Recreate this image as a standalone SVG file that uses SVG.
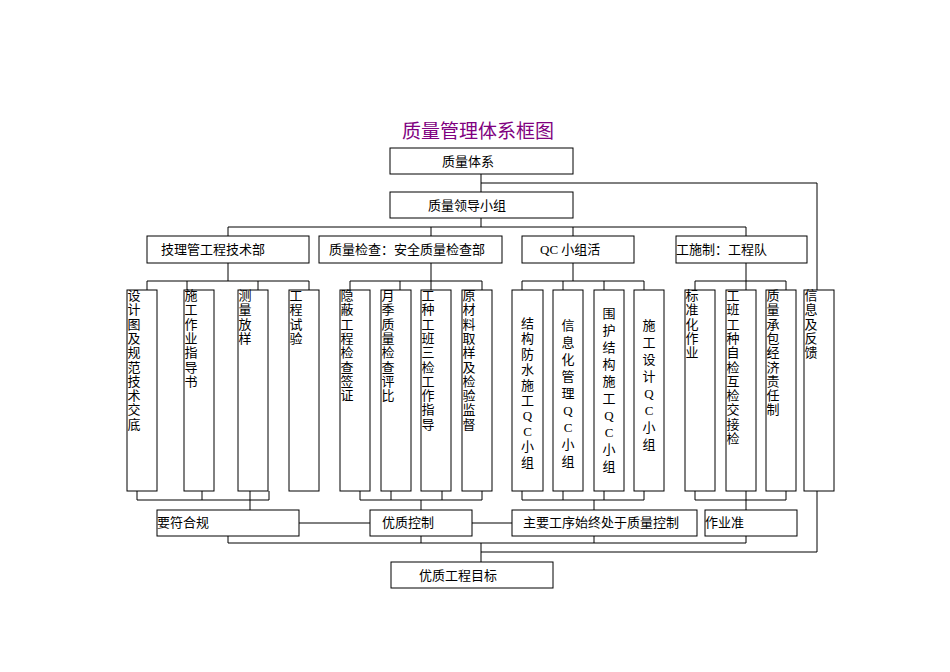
<svg xmlns="http://www.w3.org/2000/svg" width="950" height="672" viewBox="0 0 950 672">
<style>
rect{fill:#fff;stroke:#000;stroke-width:1}
.c path{fill:none;stroke:#000;stroke-width:1}
text{font-family:"Liberation Serif","Noto Sans CJK SC",serif;font-size:13px;fill:#000}
.v{text-anchor:middle}
.t{font-family:"Noto Sans CJK SC",sans-serif;font-size:19px;fill:#800080;text-anchor:middle}
</style>
<rect width="950" height="672" style="stroke:none"/>
<text class="t" x="478" y="138">质量管理体系框图</text>
<g class="c">
<path d="M481 174V192M481 183H817V290M481 218V227M228 227H746M228 227V236M431 227V236M573 227V236M746 227V236"/>
<path d="M228 263V281M147 281H309M147 281V290M187 281V290M258 281V290M309 281V290M137 491V500H269V491M202 491V500M250 491V500M250 500V510"/>
<path d="M431 263V281M350 281H482M350 281V290M400 281V290M431 281V290M482 281V290M360 491V500H482V491M391 491V500M442 491V500M421 500V510"/>
<path d="M573 263V281M522 281H644M522 281V290M563 281V290M604 281V290M644 281V290M522 491V500H644V491M563 491V500M604 491V500M594 500V510"/>
<path d="M746 263V281M695 281H786M695 281V290M746 281V290M786 281V290M695 491V500H786V491M746 491V510"/>
<path d="M299 523H370M472 523H512M228 536V543H746V536M421 536V543M594 536V543M481 543V562M817 491V552H481"/>
</g>
<g id="n1"><rect x="390" y="148" width="183" height="26"/><text x="442" y="166">质量体系</text></g>
<g id="n2"><rect x="390" y="192" width="183" height="26"/><text x="428" y="210">质量领导小组</text></g>
<g id="a"><rect x="147" y="236" width="162" height="27"/><text x="161" y="254">技理管工程技术部</text></g>
<g id="b"><rect x="319" y="236" width="183" height="27"/><text x="329" y="254">质量检查：安全质量检查部</text></g>
<g id="cc"><rect x="522" y="236" width="112" height="27"/><text x="540" y="254">QC 小组活</text></g>
<g id="d"><rect x="676" y="236" width="131" height="27"/><text x="676" y="254">工施制：工程队</text></g>
<g id="a1"><rect x="127" y="290" width="30" height="201"/><text class="v" x="134"><tspan x="134" y="300">设</tspan><tspan x="134" dy="14.3">计</tspan><tspan x="134" dy="14.3">图</tspan><tspan x="134" dy="14.3">及</tspan><tspan x="134" dy="14.3">规</tspan><tspan x="134" dy="14.3">范</tspan><tspan x="134" dy="14.3">技</tspan><tspan x="134" dy="14.3">术</tspan><tspan x="134" dy="14.3">交</tspan><tspan x="134" dy="14.3">底</tspan></text></g>
<g id="a2"><rect x="184" y="290" width="30" height="201"/><text class="v"><tspan x="191" y="300">施</tspan><tspan x="191" dy="14.3">工</tspan><tspan x="191" dy="14.3">作</tspan><tspan x="191" dy="14.3">业</tspan><tspan x="191" dy="14.3">指</tspan><tspan x="191" dy="14.3">导</tspan><tspan x="191" dy="14.3">书</tspan></text></g>
<g id="a3"><rect x="238" y="290" width="30" height="201"/><text class="v"><tspan x="245" y="300">测</tspan><tspan x="245" dy="14.3">量</tspan><tspan x="245" dy="14.3">放</tspan><tspan x="245" dy="14.3">样</tspan></text></g>
<g id="a4"><rect x="289" y="290" width="30" height="201"/><text class="v"><tspan x="296" y="300">工</tspan><tspan x="296" dy="14.3">程</tspan><tspan x="296" dy="14.3">试</tspan><tspan x="296" dy="14.3">验</tspan></text></g>
<g id="b1"><rect x="340" y="290" width="30" height="201"/><text class="v"><tspan x="347" y="300">隐</tspan><tspan x="347" dy="14.3">蔽</tspan><tspan x="347" dy="14.3">工</tspan><tspan x="347" dy="14.3">程</tspan><tspan x="347" dy="14.3">检</tspan><tspan x="347" dy="14.3">查</tspan><tspan x="347" dy="14.3">签</tspan><tspan x="347" dy="14.3">证</tspan></text></g>
<g id="b2"><rect x="381" y="290" width="30" height="201"/><text class="v"><tspan x="388" y="300">月</tspan><tspan x="388" dy="14.3">季</tspan><tspan x="388" dy="14.3">质</tspan><tspan x="388" dy="14.3">量</tspan><tspan x="388" dy="14.3">检</tspan><tspan x="388" dy="14.3">查</tspan><tspan x="388" dy="14.3">评</tspan><tspan x="388" dy="14.3">比</tspan></text></g>
<g id="b3"><rect x="421" y="290" width="30" height="201"/><text class="v"><tspan x="428" y="300">工</tspan><tspan x="428" dy="14.3">种</tspan><tspan x="428" dy="14.3">工</tspan><tspan x="428" dy="14.3">班</tspan><tspan x="428" dy="14.3">三</tspan><tspan x="428" dy="14.3">检</tspan><tspan x="428" dy="14.3">工</tspan><tspan x="428" dy="14.3">作</tspan><tspan x="428" dy="14.3">指</tspan><tspan x="428" dy="14.3">导</tspan></text></g>
<g id="b4"><rect x="462" y="290" width="30" height="201"/><text class="v"><tspan x="469" y="300">原</tspan><tspan x="469" dy="14.3">材</tspan><tspan x="469" dy="14.3">料</tspan><tspan x="469" dy="14.3">取</tspan><tspan x="469" dy="14.3">样</tspan><tspan x="469" dy="14.3">及</tspan><tspan x="469" dy="14.3">检</tspan><tspan x="469" dy="14.3">验</tspan><tspan x="469" dy="14.3">监</tspan><tspan x="469" dy="14.3">督</tspan></text></g>
<g id="c1"><rect x="512" y="290" width="31" height="201"/><text class="v"><tspan x="527.5" y="328">结</tspan><tspan x="527.5" dy="15.4">构</tspan><tspan x="527.5" dy="15.4">防</tspan><tspan x="527.5" dy="15.4">水</tspan><tspan x="527.5" dy="15.4">施</tspan><tspan x="527.5" dy="15.4">工</tspan><tspan x="527.5" dy="15.4">Q</tspan><tspan x="527.5" dy="15.4">C</tspan><tspan x="527.5" dy="15.4">小</tspan><tspan x="527.5" dy="15.4">组</tspan></text></g>
<g id="c2"><rect x="553" y="290" width="30" height="201"/><text class="v"><tspan x="568" y="330">信</tspan><tspan x="568" dy="17">息</tspan><tspan x="568" dy="17">化</tspan><tspan x="568" dy="17">管</tspan><tspan x="568" dy="17">理</tspan><tspan x="568" dy="17">Q</tspan><tspan x="568" dy="17">C</tspan><tspan x="568" dy="17">小</tspan><tspan x="568" dy="17">组</tspan></text></g>
<g id="c3"><rect x="594" y="290" width="30" height="201"/><text class="v"><tspan x="609" y="318">围</tspan><tspan x="609" dy="17">护</tspan><tspan x="609" dy="17">结</tspan><tspan x="609" dy="17">构</tspan><tspan x="609" dy="17">施</tspan><tspan x="609" dy="17">工</tspan><tspan x="609" dy="17">Q</tspan><tspan x="609" dy="17">C</tspan><tspan x="609" dy="17">小</tspan><tspan x="609" dy="17">组</tspan></text></g>
<g id="c4"><rect x="634" y="290" width="30" height="201"/><text class="v"><tspan x="649" y="330">施</tspan><tspan x="649" dy="17">工</tspan><tspan x="649" dy="17">设</tspan><tspan x="649" dy="17">计</tspan><tspan x="649" dy="17">Q</tspan><tspan x="649" dy="17">C</tspan><tspan x="649" dy="17">小</tspan><tspan x="649" dy="17">组</tspan></text></g>
<g id="d1"><rect x="685" y="290" width="30" height="201"/><text class="v"><tspan x="692" y="300">标</tspan><tspan x="692" dy="14.3">准</tspan><tspan x="692" dy="14.3">化</tspan><tspan x="692" dy="14.3">作</tspan><tspan x="692" dy="14.3">业</tspan></text></g>
<g id="d2"><rect x="726" y="290" width="30" height="201"/><text class="v"><tspan x="733" y="300">工</tspan><tspan x="733" dy="14.3">班</tspan><tspan x="733" dy="14.3">工</tspan><tspan x="733" dy="14.3">种</tspan><tspan x="733" dy="14.3">自</tspan><tspan x="733" dy="14.3">检</tspan><tspan x="733" dy="14.3">互</tspan><tspan x="733" dy="14.3">检</tspan><tspan x="733" dy="14.3">交</tspan><tspan x="733" dy="14.3">接</tspan><tspan x="733" dy="14.3">检</tspan></text></g>
<g id="d3"><rect x="766" y="290" width="30" height="201"/><text class="v"><tspan x="773" y="300">质</tspan><tspan x="773" dy="14.3">量</tspan><tspan x="773" dy="14.3">承</tspan><tspan x="773" dy="14.3">包</tspan><tspan x="773" dy="14.3">经</tspan><tspan x="773" dy="14.3">济</tspan><tspan x="773" dy="14.3">责</tspan><tspan x="773" dy="14.3">任</tspan><tspan x="773" dy="14.3">制</tspan></text></g>
<g id="e"><rect x="804" y="290" width="30" height="201"/><text class="v"><tspan x="811" y="300">信</tspan><tspan x="811" dy="14.3">息</tspan><tspan x="811" dy="14.3">及</tspan><tspan x="811" dy="14.3">反</tspan><tspan x="811" dy="14.3">馈</tspan></text></g>
<g id="r1"><rect x="157" y="510" width="142" height="26"/><text x="157" y="527">要符合规</text></g>
<g id="r2"><rect x="370" y="510" width="102" height="26"/><text x="382" y="527">优质控制</text></g>
<g id="r3"><rect x="512" y="510" width="185" height="26"/><text x="523" y="527">主要工序始终处于质量控制</text></g>
<g id="r4"><rect x="705" y="510" width="92" height="26"/><text x="705" y="527">作业准</text></g>
<g id="f"><rect x="391" y="562" width="162" height="26"/><text x="419" y="580">优质工程目标</text></g>
</svg>
